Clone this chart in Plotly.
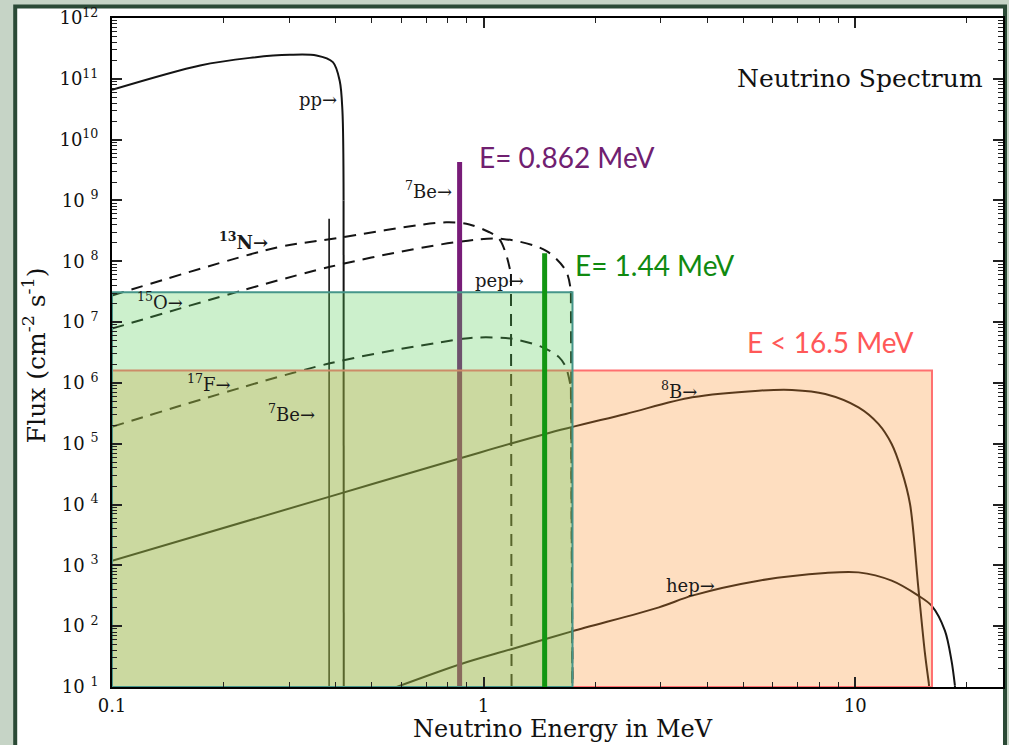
import numpy as np
import plotly.graph_objects as go

# ---------------- data ----------------
# energies in MeV, fluxes in cm^-2 s^-1 (a final flux of 1 marks the drop below the axis)
PP_E = [0.1, 0.1726, 0.235, 0.301, 0.355, 0.393, 0.410, 0.417, 0.420, 0.4205]
PP_FLUX = [6.6e10, 1.66e11, 2.21e11, 2.48e11, 2.42e11, 1.88e11, 9.3e10, 3.0e10, 1.0e9, 1.0]

N13_E = [0.1, 0.278, 0.385, 0.793, 0.916, 1.037, 1.102, 1.149, 1.185, 1.19]
N13_FLUX = [2.73e7, 1.68e8, 2.3e8, 4.38e8, 4.02e8, 3.0e8, 2.33e8, 1.32e8, 6.2e7, 1.0]

O15_E = [0.1, 0.386, 0.844, 1.125, 1.47, 1.665, 1.718, 1.735]
O15_FLUX = [7.8e6, 8.1e7, 2.06e8, 2.33e8, 1.5e8, 7.0e7, 3.2e7, 1.0]

F17_E = [0.1, 0.386, 0.879, 0.974, 1.197, 1.441, 1.598, 1.665, 1.718, 1.74]
F17_FLUX = [1.9e5, 2.1e6, 5.3e6, 5.6e6, 5.3e6, 3.85e6, 2.63e6, 1.81e6, 8.5e5, 1.0]

B8_E = [0.1, 0.3855, 0.870, 1.466, 2.413, 3.642, 5.50, 6.76, 8.31, 10.21,
        11.55, 12.54, 13.34, 14.05, 14.79, 15.42, 15.80, 15.9]
B8_FLUX = [1.19e3, 1.35e4, 5.83e4, 1.45e5, 3.09e5, 5.79e5, 7.46e5, 7.67e5, 6.59e5, 3.97e5,
           2.12e5, 9.9e4, 3.61e4, 1.02e4, 435, 34.9, 11.2, 1.0]

HEP_E = [0.57, 0.870, 1.193, 1.729, 2.965, 3.642, 5.50, 8.31, 10.21, 12.54,
         14.79, 16.06, 17.44, 18.17, 18.56, 18.7]
HEP_FLUX = [9.5, 23.9, 42.2, 82.2, 204, 318, 560, 750, 767, 560,
            318, 217, 84.3, 27.1, 10.5, 1.0]

BE7_E = [0.384, 0.862]          # 7Be lines
BE7_FLUX = [5.0e8, 4.3e9]
PEP_E = 1.46                    # pep line (highlighted)
PEP_FLUX = 1.36e8

GREEN_BAND = dict(emax=1.735, top=3.1e7)
PEACH_BAND = dict(emax=16.1, top=1.6e6)

X_TICKS = [0.1, 1, 10]
X_TICK_TEXT = ["0.1", "1", "10"]
Y_EXPONENTS = list(range(1, 13))
X_RANGE = (0.1, 25)
Y_RANGE = (1e1, 1e12)

CURVE_LABELS = ["pp→", "<sup>7</sup>Be→", "<b><sup>13</sup>N→</b>", "pep→",
                "<sup>15</sup>O→", "<sup>17</sup>F→", "<sup>7</sup>Be→",
                "<sup>8</sup>B→", "hep→"]
LINE_TEXTS = ["E= 0.862 MeV", "E= 1.44 MeV", "E < 16.5 MeV"]

# ---------------- figure ----------------
W, H = 1009, 745
ML, MR, MT, MB = 112, 4, 18, 58
PW, PH = W - ML - MR, H - MT - MB


def px(xp):
    return (xp - ML) / PW


def py(yp):
    return (H - MB - yp) / PH


BLACK = "#141414"
fig = go.Figure()
ymin = Y_RANGE[0]


def add_spectrum(xs, ys, dash=None, width=2.0):
    """Smooth curve through the read points, then a straight drop at the endpoint."""
    ln = dict(color=BLACK, width=width, shape="spline", smoothing=0.9)
    if dash:
        ln["dash"] = dash
    fig.add_trace(go.Scatter(x=xs[:-1], y=ys[:-1], mode="lines", line=ln))
    ln2 = dict(color=BLACK, width=width)
    if dash:
        ln2["dash"] = dash
    fig.add_trace(go.Scatter(x=xs[-2:], y=ys[-2:], mode="lines", line=ln2))


add_spectrum(PP_E, PP_FLUX)
fig.add_trace(go.Scatter(x=[BE7_E[0], BE7_E[0]], y=[ymin, BE7_FLUX[0]], mode="lines",
                         line=dict(color=BLACK, width=1.6)))
for xs, ys in [(N13_E, N13_FLUX), (O15_E, O15_FLUX), (F17_E, F17_FLUX)]:
    add_spectrum(xs, ys, dash="12px,8px")
for xs, ys in [(B8_E, B8_FLUX), (HEP_E, HEP_FLUX)]:
    add_spectrum(xs, ys)

# purple 7Be 0.862 line (under the bands)
fig.add_trace(go.Scatter(x=[BE7_E[1], BE7_E[1]], y=[ymin, BE7_FLUX[1]], mode="lines",
                         line=dict(color="rgb(120,28,120)", width=5)))

# translucent bands
x0 = X_RANGE[0]
fig.add_trace(go.Scatter(
    x=[x0, x0, PEACH_BAND["emax"], PEACH_BAND["emax"], x0],
    y=[ymin, PEACH_BAND["top"], PEACH_BAND["top"], ymin, ymin],
    mode="lines", fill="toself", fillcolor="rgba(251,145,45,0.30)",
    line=dict(color="rgb(255,112,112)", width=2)))
fig.add_trace(go.Scatter(
    x=[x0, x0, GREEN_BAND["emax"], GREEN_BAND["emax"], x0],
    y=[ymin, GREEN_BAND["top"], GREEN_BAND["top"], ymin, ymin],
    mode="lines", fill="toself", fillcolor="rgba(85,205,85,0.30)",
    line=dict(color="rgb(70,150,138)", width=2)))

# green pep line (above the bands)
fig.add_trace(go.Scatter(x=[PEP_E, PEP_E], y=[ymin, PEP_FLUX], mode="lines",
                         line=dict(color="rgb(18,150,18)", width=5)))

# axes
xminor = [m * 10.0 ** k for k in (-1, 0, 1) for m in range(2, 10) if m * 10.0 ** k < X_RANGE[1]]
yminor = [m * 10.0 ** k for k in range(1, 12) for m in range(2, 10)]
axis_common = dict(type="log", showgrid=False, zeroline=False, showline=True,
                   linecolor="black", linewidth=2, mirror="allticks",
                   ticks="inside", ticklen=10, tickwidth=1.5, tickcolor="#222",
                   tickfont=dict(family="DejaVu Serif", size=18, color="#111"))
fig.update_xaxes(range=[np.log10(X_RANGE[0]), np.log10(X_RANGE[1])],
                 tickmode="array", tickvals=X_TICKS, ticktext=X_TICK_TEXT,
                 minor=dict(tickmode="array", tickvals=xminor, ticks="inside",
                            ticklen=5, tickwidth=1.2, tickcolor="#222", showgrid=False),
                 ticklabelstandoff=1, **axis_common)
fig.update_yaxes(range=[np.log10(Y_RANGE[0]), np.log10(Y_RANGE[1])],
                 tickmode="array", tickvals=[10.0 ** e for e in Y_EXPONENTS],
                 ticktext=[("10<sup>%d</sup>" if e >= 10 else "10 <sup>%d</sup>") % e
                           for e in Y_EXPONENTS],
                 minor=dict(tickmode="array", tickvals=yminor, ticks="inside",
                            ticklen=5, tickwidth=1.2, tickcolor="#222", showgrid=False),
                 ticklabelstandoff=8, **axis_common)

# background: marble margin + white panel with dark green border
fig.add_shape(type="rect", xref="paper", yref="paper", layer="below",
              x0=px(15), x1=px(1007), y0=py(760), y1=py(6.5),
              fillcolor="white", line=dict(color="#2b4a36", width=4))

# annotations
serif = "DejaVu Serif"
label_pos = [(340, 100), (455, 190), (270, 241), (527, 280), (185, 301),
             (233, 383), (317, 413), (700, 390), (718, 585)]
for txt, (lx, ly) in zip(CURVE_LABELS, label_pos):
    fig.add_annotation(xref="paper", yref="paper", x=px(lx), y=py(ly), text=txt,
                       showarrow=False, xanchor="right", yanchor="middle",
                       font=dict(family=serif, size=18, color="#1a1a1a"))

line_cols = ["rgb(112,32,112)", "rgb(16,138,16)", "rgb(255,88,88)"]
line_pos = [(478, 157), (574, 265), (746, 342)]
for txt, col, (lx, ly) in zip(LINE_TEXTS, line_cols, line_pos):
    fig.add_annotation(xref="paper", yref="paper", x=px(lx), y=py(ly), text=txt,
                       showarrow=False, xanchor="left", yanchor="middle",
                       font=dict(family="Lato", size=28, color=col))

fig.add_annotation(xref="paper", yref="paper", x=px(987), y=py(78),
                   text="Neutrino Spectrum", showarrow=False, xanchor="right",
                   yanchor="middle", font=dict(family=serif, size=25, color="#111"))
fig.add_annotation(xref="paper", yref="paper", x=px(564), y=py(729),
                   text="Neutrino Energy in MeV", showarrow=False, xanchor="center",
                   yanchor="middle", font=dict(family=serif, size=24, color="#111"))
fig.add_annotation(xref="paper", yref="paper", x=px(34), y=py(355),
                   text="Flux (cm<sup>-2</sup> s<sup>-1</sup>)", showarrow=False,
                   textangle=-90, xanchor="center", yanchor="middle",
                   font=dict(family=serif, size=25, color="#111"))

fig.update_layout(width=W, height=H, margin=dict(l=ML, r=MR, t=MT, b=MB),
                  paper_bgcolor="#c6d4c6", plot_bgcolor="white", showlegend=False)

fig.write_html("out.html")
